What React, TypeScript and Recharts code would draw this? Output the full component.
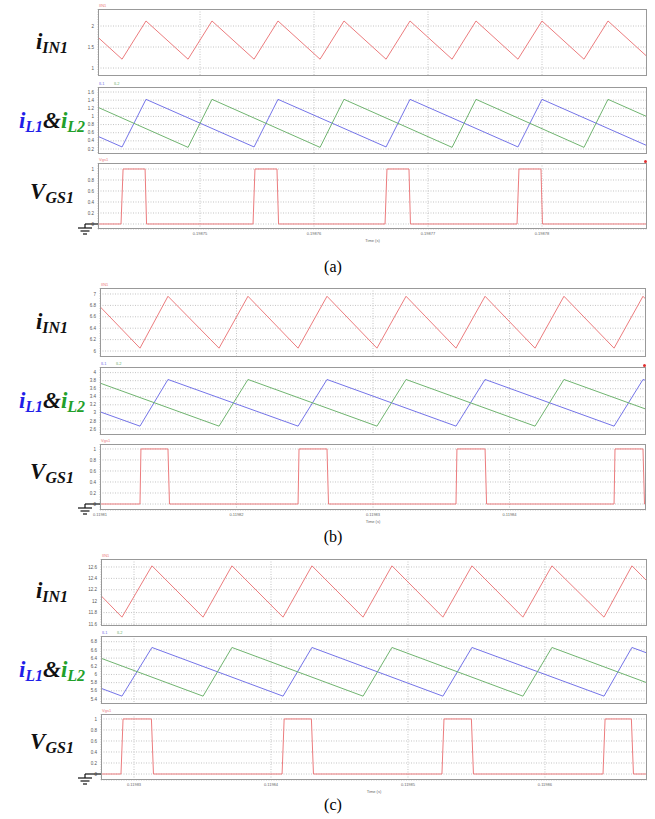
import React from "react";
import { LineChart, Line, XAxis, YAxis, CartesianGrid } from "recharts";

// times in microseconds, currents in A, gate voltage normalised

// ---- (a) ----
const tInA = [198739.47, 198743.16, 198745.26, 198748.95, 198751.05, 198754.74, 198756.84, 198760.53, 198762.63, 198766.32, 198768.42, 198772.11, 198774.21, 198777.89, 198780.0, 198783.68, 198785.79, 198789.47, 198791.58];
const iInA = [2.12, 1.21, 2.12, 1.21, 2.12, 1.21, 2.12, 1.21, 2.12, 1.21, 2.12, 1.21, 2.12, 1.21, 2.12, 1.21, 2.12, 1.21, 2.12];
const tL1A = [198733.68, 198743.16, 198745.26, 198754.74, 198756.84, 198766.32, 198768.42, 198777.89, 198780.0, 198789.47, 198791.58];
const iL1A = [1.42, 0.25, 1.42, 0.25, 1.42, 0.25, 1.42, 0.25, 1.42, 0.25, 1.42];
const tL2A = [198739.47, 198748.95, 198751.05, 198760.53, 198762.63, 198772.11, 198774.21, 198783.68, 198785.79, 198795.26];
const iL2A = [1.42, 0.24, 1.42, 0.24, 1.42, 0.24, 1.42, 0.24, 1.42, 0.24];
const tGsA = [198738, 198743.07, 198743.25, 198745.18, 198745.31, 198754.65, 198754.82, 198756.75, 198756.89, 198766.23, 198766.4, 198768.33, 198768.46, 198777.81, 198777.98, 198779.91, 198780.04, 198792];
const vGsA = [0, 0, 1, 1, 0, 0, 1, 1, 0, 0, 1, 1, 0, 0, 1, 1, 0, 0];
const ticksA = [198750, 198760, 198770, 198780];

// ---- (b) ----
const tInB = [119809.27, 119812.93, 119814.98, 119818.72, 119820.84, 119824.51, 119826.63, 119830.29, 119832.42, 119836.08, 119838.21, 119841.87, 119843.99, 119847.66, 119849.78, 119853.44];
const iInB = [6.96, 6.05, 6.96, 6.05, 6.96, 6.05, 6.96, 6.05, 6.96, 6.05, 6.96, 6.05, 6.96, 6.05, 6.96, 6.05];
const tL1B = [119803.41, 119812.93, 119814.98, 119824.51, 119826.63, 119836.08, 119838.21, 119847.66, 119849.78, 119859.23];
const iL1B = [3.83, 2.67, 3.83, 2.67, 3.83, 2.67, 3.83, 2.67, 3.83, 2.67];
const tL2B = [119809.27, 119818.72, 119820.84, 119830.29, 119832.42, 119841.87, 119843.99, 119853.44, 119855.57];
const iL2B = [3.83, 2.67, 3.83, 2.67, 3.83, 2.67, 3.83, 2.67, 3.83];
const tGsB = [119805, 119812.93, 119813.0, 119814.98, 119815.09, 119824.51, 119824.58, 119826.63, 119826.74, 119836.08, 119836.15, 119838.21, 119838.32, 119847.66, 119847.73, 119849.78, 119849.89, 119856];
const vGsB = [0, 0, 1, 1, 0, 0, 1, 1, 0, 0, 1, 1, 0, 0, 1, 1, 0, 0];
const ticksB = [119810, 119820, 119830, 119840];

// ---- (c) ----
const tInC = [119825.47, 119829.12, 119831.31, 119835.04, 119837.15, 119840.88, 119842.99, 119846.72, 119848.83, 119852.55, 119854.67, 119858.39, 119860.51, 119864.31, 119866.35, 119870.07];
const iInC = [12.62, 11.72, 12.62, 11.72, 12.62, 11.72, 12.62, 11.72, 12.62, 11.72, 12.62, 11.72, 12.62, 11.72, 12.62, 11.72];
const tL1C = [119819.64, 119829.12, 119831.31, 119840.88, 119842.99, 119852.55, 119854.67, 119864.31, 119866.35, 119875.99];
const iL1C = [6.66, 5.47, 6.66, 5.47, 6.66, 5.47, 6.66, 5.47, 6.66, 5.47];
const tL2C = [119825.47, 119835.04, 119837.15, 119846.72, 119848.83, 119858.39, 119860.51, 119870.07];
const iL2C = [6.66, 5.47, 6.66, 5.47, 6.66, 5.47, 6.66, 5.47];
const tGsC = [119822, 119829.05, 119829.2, 119831.27, 119831.42, 119840.81, 119840.96, 119842.95, 119843.1, 119852.48, 119852.63, 119854.63, 119854.78, 119864.24, 119864.39, 119866.31, 119866.46, 119872];
const vGsC = [0, 0, 1, 1, 0, 0, 1, 1, 0, 0, 1, 1, 0, 0, 1, 1, 0, 0];
const ticksC = [119830, 119840, 119850, 119860];

const yTicksInA = [1, 1.5, 2];
const yTicksLA = [0.2, 0.4, 0.6, 0.8, 1, 1.2, 1.4, 1.6];
const yTicksInB = [6, 6.2, 6.4, 6.6, 6.8, 7];
const yTicksLB = [2.6, 2.8, 3, 3.2, 3.4, 3.6, 3.8, 4];
const yTicksInC = [11.6, 11.8, 12, 12.2, 12.4, 12.6];
const yTicksLC = [5.4, 5.6, 5.8, 6, 6.2, 6.4, 6.6, 6.8];
const yTicksGs = [0, 0.2, 0.4, 0.6, 0.8, 1];

const RED = "#ec7c7e";
const BLUE = "#7474e8";
const GREEN = "#70b470";
const SANS = "Arial, 'Liberation Sans', sans-serif";

const YW = 22;
const XH = 14;

const zip = (t: number[], v: number[]) => t.map((x, i) => ({ t: x, v: v[i] }));

type Trace = { t: number[]; v: number[]; color: string };
type Tag = { text: string; color: string };

function Panel(props: {
  x0: number; x1: number; y0: number; y1: number;
  xDomain: [number, number]; yDomain: [number, number];
  xTicks: number[]; yTicks: number[];
  traces: Trace[]; tags: Tag[]; showTime?: boolean; marker?: boolean;
}) {
  const { x0, x1, y0, y1, xDomain, yDomain, xTicks, yTicks, traces, tags, showTime, marker } = props;
  const w = x1 - x0 + YW;
  const h = y1 - y0 + (showTime ? XH : 0);
  return (
    <div style={{ position: "absolute", left: x0 - YW, top: y0, width: w, height: h, fontFamily: SANS }}>
      {tags.map((g, i) => (
        <span key={g.text} style={{ position: "absolute", left: YW + 1 + i * 15, top: -6, fontSize: 4, color: g.color }}>
          {g.text}
        </span>
      ))}
      {marker && (
        <span style={{ position: "absolute", left: w - 3, top: -3, width: 3, height: 3, borderRadius: 2, background: "#e03030" }} />
      )}
      <LineChart width={w} height={h} margin={{ top: 0, right: 0, bottom: 0, left: 0 }} style={{ fontFamily: SANS }}>
        <CartesianGrid stroke="#c4c4c4" strokeDasharray="1 1.5" />
        <XAxis
          type="number" dataKey="t" domain={xDomain} ticks={xTicks} allowDataOverflow interval={0}
          hide={!showTime} height={showTime ? XH : 0}
          axisLine={false} tickLine={false} tickSize={2} tickMargin={1}
          tick={{ fontSize: 4, fill: "#666", fontFamily: SANS }}
          tickFormatter={(v: number) => (v / 1e6).toFixed(5)}
          label={showTime ? { value: "Time (s)", position: "insideBottom", offset: 1, fontSize: 4, fill: "#666", fontFamily: SANS } : undefined}
        />
        <YAxis
          type="number" domain={yDomain} ticks={yTicks} allowDataOverflow interval={0} width={YW}
          axisLine={false} tickLine={false} tickSize={2} tickMargin={2}
          tick={{ fontSize: 4.5, fill: "#555", fontFamily: SANS }}
        />
        {traces.map((tr, i) => (
          <Line key={i} data={zip(tr.t, tr.v)} dataKey="v" type="linear" stroke={tr.color} strokeWidth={1}
            dot={false} activeDot={false} isAnimationActive={false} />
        ))}
      </LineChart>
      <div style={{ position: "absolute", left: YW, top: 0, width: x1 - x0, height: y1 - y0, border: "1.5px solid #999", boxSizing: "border-box", pointerEvents: "none" }} />
    </div>
  );
}

const labelFont: React.CSSProperties = { fontFamily: "'Liberation Serif', 'DejaVu Serif', serif", fontWeight: "bold", fontStyle: "italic" };
const Sub = ({ children }: { children: React.ReactNode }) => (
  <span style={{ fontSize: 16, position: "relative", top: 4 }}>{children}</span>
);

function BigLabel({ cy, kind }: { cy: number; kind: "in" | "l" | "gs" }) {
  return (
    <div style={{ ...labelFont, position: "absolute", left: 0, width: 104, top: cy - 15, height: 30, lineHeight: "30px", textAlign: "center", fontSize: 23, color: "#111", whiteSpace: "nowrap" }}>
      {kind === "in" && (<><span>i</span><Sub>IN1</Sub></>)}
      {kind === "l" && (
        <>
          <span style={{ color: "#1f1fe8" }}>i<Sub>L1</Sub></span>
          <span>&amp;</span>
          <span style={{ color: "#22a02a" }}>i<Sub>L2</Sub></span>
        </>
      )}
      {kind === "gs" && (<><span>V</span><Sub>GS1</Sub></>)}
    </div>
  );
}

function Ground({ zeroY, left }: { zeroY: number; left: number }) {
  return (
    <svg style={{ position: "absolute", left: 76, top: zeroY - 2, overflow: "visible" }} width={left - 76} height={14}>
      <g stroke="#111" strokeWidth={1.2}>
        <line x1={9} y1={2} x2={left - 76} y2={2} />
        <line x1={9} y1={2} x2={9} y2={6} />
        <line x1={2} y1={6} x2={16} y2={6} />
        <line x1={4.5} y1={9} x2={13.5} y2={9} />
        <line x1={7} y1={12} x2={11} y2={12} />
      </g>
    </svg>
  );
}

const Caption = ({ top, text }: { top: number; text: string }) => (
  <div style={{ position: "absolute", left: 283, width: 100, top, textAlign: "center", fontFamily: "'Liberation Serif', serif", fontSize: 16 }}>{text}</div>
);

export default function App() {
  return (
    <div style={{ position: "absolute", left: 0, top: 0, width: 655, height: 819, background: "#fff", overflow: "hidden" }}>
      {/* (a) */}
      <Panel x0={98} x1={647} y0={9} y1={76} xDomain={[198741.05, 198789.21]} yDomain={[0.81, 2.405]} xTicks={ticksA} yTicks={yTicksInA}
        traces={[{ t: tInA, v: iInA, color: RED }]} tags={[{ text: "IIN1", color: RED }]} />
      <Panel x0={98} x1={647} y0={87} y1={154} xDomain={[198741.05, 198789.21]} yDomain={[0.077, 1.723]} xTicks={ticksA} yTicks={yTicksLA}
        traces={[{ t: tL1A, v: iL1A, color: BLUE }, { t: tL2A, v: iL2A, color: GREEN }]}
        tags={[{ text: "IL1", color: BLUE }, { text: "IL2", color: GREEN }]} />
      <Panel x0={98} x1={647} y0={163} y1={229} xDomain={[198741.05, 198789.21]} yDomain={[-0.091, 1.109]} xTicks={ticksA} yTicks={yTicksGs}
        traces={[{ t: tGsA, v: vGsA, color: RED }]} tags={[{ text: "Vgs1", color: RED }]} showTime marker />
      <BigLabel cy={42} kind="in" />
      <BigLabel cy={121} kind="l" />
      <BigLabel cy={192} kind="gs" />
      <Ground zeroY={224} left={98} />
      <Caption top={258} text="(a)" />

      {/* (b) */}
      <Panel x0={100} x1={646} y0={288} y1={357} xDomain={[119810, 119850]} yDomain={[5.895, 7.105]} xTicks={ticksB} yTicks={yTicksInB}
        traces={[{ t: tInB, v: iInB, color: RED }]} tags={[{ text: "IIN1", color: RED }]} />
      <Panel x0={100} x1={646} y0={367} y1={435} xDomain={[119810, 119850]} yDomain={[2.45, 4.14]} xTicks={ticksB} yTicks={yTicksLB}
        traces={[{ t: tL1B, v: iL1B, color: BLUE }, { t: tL2B, v: iL2B, color: GREEN }]}
        tags={[{ text: "IL1", color: BLUE }, { text: "IL2", color: GREEN }]} marker />
      <Panel x0={100} x1={646} y0={444} y1={510} xDomain={[119810, 119850]} yDomain={[-0.109, 1.09]} xTicks={ticksB} yTicks={yTicksGs}
        traces={[{ t: tGsB, v: vGsB, color: RED }]} tags={[{ text: "Vgs1", color: RED }]} showTime />
      <BigLabel cy={322} kind="in" />
      <BigLabel cy={401} kind="l" />
      <BigLabel cy={472} kind="gs" />
      <Ground zeroY={504} left={100} />
      <Caption top={528} text="(b)" />

      {/* (c) */}
      <Panel x0={101} x1={647} y0={559} y1={626} xDomain={[119827.59, 119867.45]} yDomain={[11.565, 12.74]} xTicks={ticksC} yTicks={yTicksInC}
        traces={[{ t: tInC, v: iInC, color: RED }]} tags={[{ text: "IIN1", color: RED }]} />
      <Panel x0={101} x1={647} y0={636} y1={704} xDomain={[119827.59, 119867.45]} yDomain={[5.278, 6.94]} xTicks={ticksC} yTicks={yTicksLC}
        traces={[{ t: tL1C, v: iL1C, color: BLUE }, { t: tL2C, v: iL2C, color: GREEN }]}
        tags={[{ text: "IL1", color: BLUE }, { text: "IL2", color: GREEN }]} />
      <Panel x0={101} x1={647} y0={714} y1={780} xDomain={[119827.59, 119867.45]} yDomain={[-0.109, 1.09]} xTicks={ticksC} yTicks={yTicksGs}
        traces={[{ t: tGsC, v: vGsC, color: RED }]} tags={[{ text: "Vgs1", color: RED }]} showTime />
      <BigLabel cy={591} kind="in" />
      <BigLabel cy={670} kind="l" />
      <BigLabel cy={742} kind="gs" />
      <Ground zeroY={774} left={101} />
      <Caption top={796} text="(c)" />
    </div>
  );
}
